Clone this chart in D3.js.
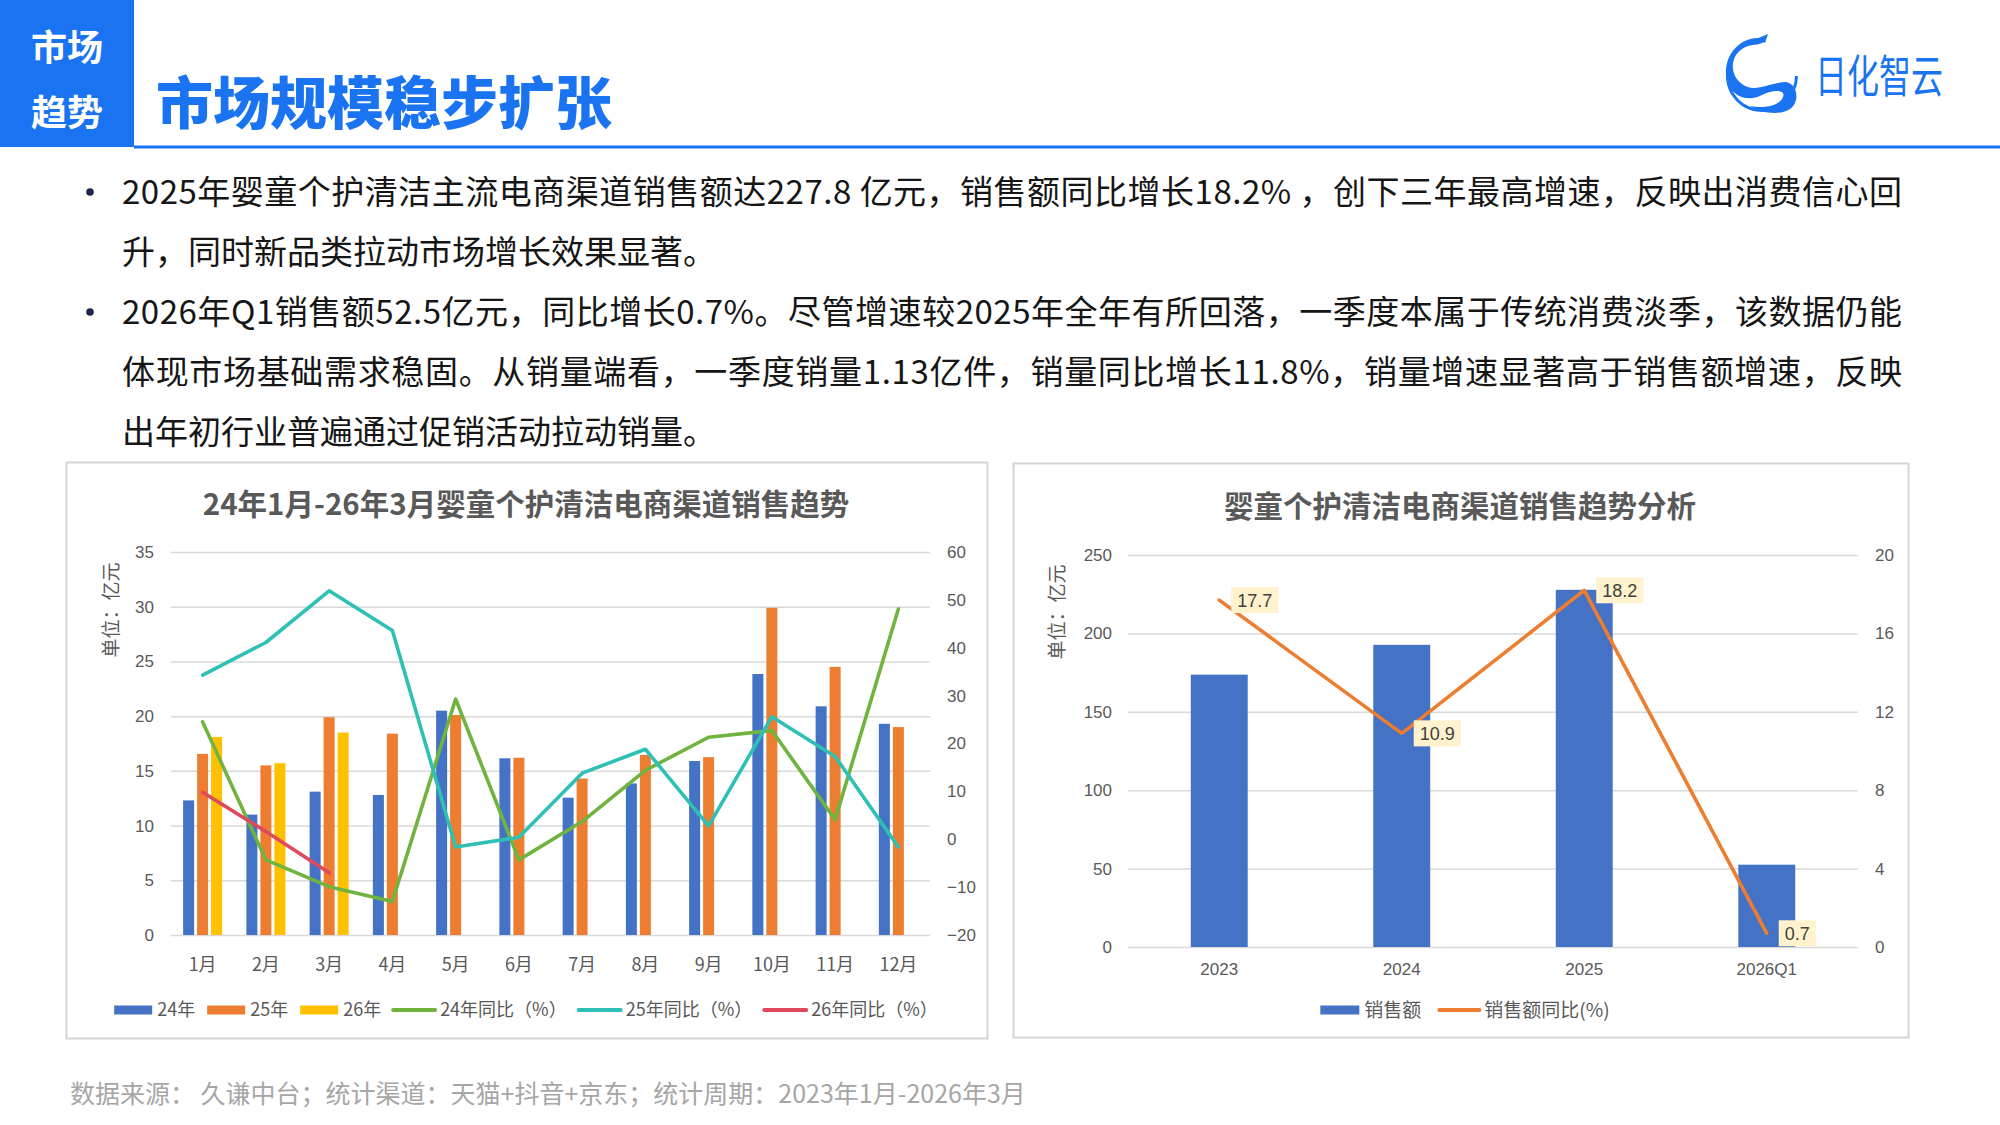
<!DOCTYPE html>
<html><head><meta charset="utf-8">
<script src="https://cdn.jsdelivr.net/npm/d3@7"></script>
<style>
html,body{margin:0;padding:0;background:#fff;}
svg{display:block;}
</style></head><body>
<svg id="c" width="2000" height="1125"></svg>
<script>
// ---------------- DATA ----------------
const months = ['1月','2月','3月','4月','5月','6月','7月','8月','9月','10月','11月','12月'];
const sales24 = [12.3, 11.0, 13.1, 12.8, 20.5, 16.15, 12.55, 13.85, 15.9, 23.85, 20.9, 19.3];
const sales25 = [16.55, 15.5, 19.9, 18.4, 20.1, 16.2, 14.3, 16.45, 16.25, 29.9, 24.5, 19.0];
const sales26 = [18.1, 15.7, 18.5];
const yoy24 = [24.5, -4.3, -9.9, -13.0, 29.3, -4.3, 3.7, 14.4, 21.3, 22.7, 4.1, 48.1];
const yoy25 = [34.3, 41.1, 51.9, 43.6, -1.6, 0.4, 13.8, 18.8, 2.8, 25.6, 17.3, -1.6];
const yoy26 = [9.8, 1.6, -7.0];
const leftTicks = [0, 5, 10, 15, 20, 25, 30, 35];
const rightTicks = [-20, -10, 0, 10, 20, 30, 40, 50, 60];

const years = ['2023', '2024', '2025', '2026Q1'];
const yearSales = [173.7, 192.7, 227.8, 52.5];
const yearYoy = [17.7, 10.9, 18.2, 0.7];
const yearLeftTicks = [0, 50, 100, 150, 200, 250];
const yearRightTicks = [0, 4, 8, 12, 16, 20];

const headerTag = ['市场', '趋势'];
const pageTitle = '市场规模稳步扩张';
const bullets = [
  ['2025年婴童个护清洁主流电商渠道销售额达227.8 亿元，销售额同比增长18.2% ，创下三年最高增速，反映出消费信心回',
   '升，同时新品类拉动市场增长效果显著。'],
  ['2026年Q1销售额52.5亿元，同比增长0.7%。尽管增速较2025年全年有所回落，一季度本属于传统消费淡季，该数据仍能',
   '体现市场基础需求稳固。从销量端看，一季度销量1.13亿件，销量同比增长11.8%，销量增速显著高于销售额增速，反映',
   '出年初行业普遍通过促销活动拉动销量。']
];
const chart1Title = '24年1月-26年3月婴童个护清洁电商渠道销售趋势';
const chart2Title = '婴童个护清洁电商渠道销售趋势分析';
const unitLabel = '单位：亿元';
const footer = '数据来源： 久谦中台；统计渠道：天猫+抖音+京东；统计周期：2023年1月-2026年3月';

// ---------------- STYLE ----------------
const CJK = '"Noto Sans CJK SC", "Noto Sans", sans-serif';
const NUM = '"Liberation Sans", Arial, "Noto Sans CJK SC", sans-serif';
const BLUE_HDR = '#1a74f2';
const C24 = '#4472C4', C25 = '#ED7D31', C26 = '#FFC000';
const L24 = '#70B43F', L25 = '#2EC0B5', L26 = '#E0485C';
const GRID = '#d9d9d9', TICK = '#595959';

const svg = d3.select('#c');
svg.append('rect').attr('width', 2000).attr('height', 1125).attr('fill', '#fff');

// ---------------- HEADER ----------------
svg.append('rect').attr('x', 0).attr('y', 0).attr('width', 134).attr('height', 147).attr('fill', BLUE_HDR);
svg.append('line').attr('x1', 134).attr('x2', 2000).attr('y1', 147).attr('y2', 147)
  .attr('stroke', BLUE_HDR).attr('stroke-width', 3);
headerTag.forEach((t, i) => {
  svg.append('text').attr('x', 67).attr('y', [48, 113][i]).attr('dy', '0.36em')
    .attr('text-anchor', 'middle').attr('fill', '#fff')
    .style('font-family', CJK).style('font-size', '36px').style('font-weight', 700).text(t);
});
svg.append('text').attr('x', 156).attr('y', 103).attr('dy', '0.36em')
  .attr('fill', BLUE_HDR).style('font-family', CJK).style('font-size', '57px').style('font-weight', 900)
  .text(pageTitle);

// logo
const logo = svg.append('g').attr('transform', 'translate(1762,76)');
logo.append('path')
  .attr('d', d3.arc()({innerRadius: 33, outerRadius: 36, startAngle: Math.PI * 0.5, endAngle: Math.PI * 1.6}))
  .attr('fill', BLUE_HDR);
logo.append('path')
  .attr('d', 'M 4,-36 C -2,-30 -8,-32 -14,-30 C -32,-24 -34,-2 -20,8 C -8,18 10,6 24,6 C 36,8 38,26 28,33 C 18,40 -2,37 -12,30 C 4,33 18,29 21,21 C 24,14 12,13 0,19 C -18,28 -35,17 -36,-2 C -37,-22 -22,-38 -4,-38 C 0,-38 2,-37 4,-36 Z')
  .attr('fill', BLUE_HDR);
logo.append('path')
  .attr('d', 'M -6,-37 L 6,-42 L 3,-33 Z').attr('fill', BLUE_HDR);
svg.append('text').attr('x', 1815).attr('y', 77).attr('dy', '0.36em')
  .attr('fill', BLUE_HDR).attr('textLength', 128).attr('lengthAdjust', 'spacingAndGlyphs')
  .style('font-family', CJK).style('font-size', '45px').style('font-weight', 400).text('日化智云');

// ---------------- BULLETS ----------------
let lineIdx = 0;
const lineY = [192, 252, 312, 372, 432];
bullets.forEach(par => {
  svg.append('circle').attr('cx', 90).attr('cy', lineY[lineIdx]).attr('r', 3.8).attr('fill', '#1c2452');
  par.forEach((ln, j) => {
    const t = svg.append('text').attr('x', 122).attr('y', lineY[lineIdx]).attr('dy', '0.36em')
      .attr('fill', '#161616').style('font-family', CJK).style('font-size', '33px').text(ln);
    if (j < par.length - 1) t.attr('textLength', 1780).attr('lengthAdjust', 'spacing');
    lineIdx++;
  });
});

// ---------------- helpers ----------------
function box(x0, y0, x1, y1) {
  svg.append('rect').attr('x', x0 + 0.5).attr('y', y0 + 0.5).attr('width', x1 - x0).attr('height', y1 - y0)
    .attr('fill', 'none').attr('stroke', '#d5d5d5').attr('stroke-width', 2);
}
function legend(items, cx, cy, fs, gap) {
  const g = svg.append('g');
  let x = 0;
  items.forEach(it => {
    const sw = it.sw || 38;
    const tx = g.append('text').attr('x', x + sw + 5).attr('y', cy).attr('dy', '0.36em')
      .attr('fill', TICK).style('font-family', CJK).style('font-size', fs + 'px').text(it.label);
    if (it.type === 'bar') {
      g.append('rect').attr('x', x).attr('y', cy - 4.5).attr('width', sw).attr('height', 9).attr('fill', it.color);
    } else {
      g.append('line').attr('x1', x).attr('x2', x + sw).attr('y1', cy).attr('y2', cy)
        .attr('stroke', it.color).attr('stroke-width', 4).attr('stroke-linecap', 'round');
    }
    x += sw + 5 + tx.node().getComputedTextLength() + gap;
  });
  const w = x - gap;
  g.attr('transform', `translate(${cx - w / 2},0)`);
}
function styleTicks(g, fs) {
  g.select('.domain').remove();
  g.selectAll('text').attr('fill', TICK).style('font-family', NUM).style('font-size', fs + 'px');
}

// ---------------- CHART 1 ----------------
box(66, 462, 987, 1038);
svg.append('text').attr('x', 526).attr('y', 504).attr('dy', '0.36em').attr('text-anchor', 'middle')
  .attr('fill', TICK).style('font-family', CJK).style('font-size', '29.5px').style('font-weight', 700).text(chart1Title);
svg.append('text').attr('transform', 'translate(111,610) rotate(-90)').attr('dy', '0.36em').attr('text-anchor', 'middle')
  .attr('fill', TICK).style('font-family', CJK).style('font-size', '19px').text(unitLabel);

const p1 = {l: 171, r: 930, t: 552, b: 935};
const x1 = d3.scaleBand().domain(months).range([p1.l, p1.r]);
const yL = d3.scaleLinear().domain([0, 35]).range([p1.b, p1.t]);
const yR = d3.scaleLinear().domain([-20, 60]).range([p1.b, p1.t]);
const sub = d3.scaleBand().domain(['24', '25', '26']).range([-19.5, 19.5]).paddingInner(0.214);

svg.append('g').attr('transform', `translate(${p1.l},0)`)
  .call(d3.axisLeft(yL).tickValues(leftTicks).tickSize(-(p1.r - p1.l)).tickFormat(''))
  .call(g => { g.select('.domain').remove(); g.selectAll('line').attr('stroke', GRID).attr('stroke-width', 1.5); });
svg.append('g').attr('transform', `translate(${p1.l},0)`)
  .call(d3.axisLeft(yL).tickValues(leftTicks).tickSize(0).tickPadding(17))
  .call(g => styleTicks(g, 17));
svg.append('g').attr('transform', `translate(${p1.r},0)`)
  .call(d3.axisRight(yR).tickValues(rightTicks).tickSize(0).tickPadding(17))
  .call(g => styleTicks(g, 17));
svg.append('g').attr('transform', `translate(0,${p1.b})`)
  .call(d3.axisBottom(x1).tickSize(0))
  .call(g => { styleTicks(g, 18); g.selectAll('text').attr('y', 30).attr('dy', '0.36em').style('font-family', CJK); });

const barSeries = [['24', sales24, C24], ['25', sales25, C25], ['26', sales26, C26]];
barSeries.forEach(([k, vals, col]) => {
  svg.append('g').selectAll('rect').data(vals).join('rect')
    .attr('x', (d, i) => x1(months[i]) + x1.bandwidth() / 2 + sub(k))
    .attr('width', sub.bandwidth())
    .attr('y', d => yL(d)).attr('height', d => yL(0) - yL(d)).attr('fill', col);
});
const lineGen = d3.line().x((d, i) => x1(months[i]) + x1.bandwidth() / 2).y(d => yR(d));
[[yoy24, L24], [yoy25, L25], [yoy26, L26]].forEach(([vals, col]) => {
  svg.append('path').datum(vals).attr('d', lineGen).attr('fill', 'none').attr('stroke', col)
    .attr('stroke-width', 3.6).attr('stroke-linejoin', 'round').attr('stroke-linecap', 'round');
});
legend([
  {type: 'bar', color: C24, label: '24年'},
  {type: 'bar', color: C25, label: '25年'},
  {type: 'bar', color: C26, label: '26年'},
  {type: 'line', color: L24, label: '24年同比（%）', sw: 42},
  {type: 'line', color: L25, label: '25年同比（%）', sw: 42},
  {type: 'line', color: L26, label: '26年同比（%）', sw: 42}
], 526, 1010, 18, 12);

// ---------------- CHART 2 ----------------
box(1013, 463, 1908, 1037);
svg.append('text').attr('x', 1460).attr('y', 506).attr('dy', '0.36em').attr('text-anchor', 'middle')
  .attr('fill', TICK).style('font-family', CJK).style('font-size', '29.5px').style('font-weight', 700).text(chart2Title);
svg.append('text').attr('transform', 'translate(1057,612) rotate(-90)').attr('dy', '0.36em').attr('text-anchor', 'middle')
  .attr('fill', TICK).style('font-family', CJK).style('font-size', '19px').text(unitLabel);

const p2 = {l: 1128, r: 1858, t: 555, b: 947};
const x2 = d3.scaleBand().domain(years).range([p2.l, p2.r]).paddingInner(0.688).paddingOuter(0.344);
const y2L = d3.scaleLinear().domain([0, 250]).range([p2.b, p2.t]);
const y2R = d3.scaleLinear().domain([0, 20]).range([p2.b, p2.t]);

svg.append('g').attr('transform', `translate(${p2.l},0)`)
  .call(d3.axisLeft(y2L).tickValues(yearLeftTicks).tickSize(-(p2.r - p2.l)).tickFormat(''))
  .call(g => { g.select('.domain').remove(); g.selectAll('line').attr('stroke', GRID).attr('stroke-width', 1.5); });
svg.append('g').attr('transform', `translate(${p2.l},0)`)
  .call(d3.axisLeft(y2L).tickValues(yearLeftTicks).tickSize(0).tickPadding(16))
  .call(g => styleTicks(g, 17));
svg.append('g').attr('transform', `translate(${p2.r},0)`)
  .call(d3.axisRight(y2R).tickValues(yearRightTicks).tickSize(0).tickPadding(17))
  .call(g => styleTicks(g, 17));
svg.append('g').attr('transform', `translate(0,${p2.b})`)
  .call(d3.axisBottom(x2).tickSize(0))
  .call(g => { styleTicks(g, 17); g.selectAll('text').attr('y', 22).attr('dy', '0.36em'); });

svg.append('g').selectAll('rect').data(yearSales).join('rect')
  .attr('x', (d, i) => x2(years[i])).attr('width', x2.bandwidth())
  .attr('y', d => y2L(d)).attr('height', d => y2L(0) - y2L(d)).attr('fill', C24);
const cx2 = (d, i) => x2(years[i]) + x2.bandwidth() / 2;
svg.append('path').datum(yearYoy)
  .attr('d', d3.line().x(cx2).y(d => y2R(d)))
  .attr('fill', 'none').attr('stroke', C25).attr('stroke-width', 3.6)
  .attr('stroke-linejoin', 'round').attr('stroke-linecap', 'round');
const lab = svg.append('g').selectAll('g').data(yearYoy).join('g')
  .attr('transform', (d, i) => `translate(${cx2(d, i) + 12},${y2R(d)})`);
lab.append('text').attr('x', 6).attr('dy', '0.36em').attr('fill', '#404040')
  .style('font-family', NUM).style('font-size', '18px').text(d => d.toFixed(1));
lab.insert('rect', 'text').attr('x', 0).attr('y', -13).attr('height', 26)
  .attr('width', function () { return this.parentNode.querySelector('text').getComputedTextLength() + 12; })
  .attr('fill', '#FFF2CC');

legend([
  {type: 'bar', color: C24, label: '销售额', sw: 39},
  {type: 'line', color: C25, label: '销售额同比(%)', sw: 40}
], 1465, 1010, 19, 18);

// ---------------- FOOTER ----------------
svg.append('text').attr('x', 70).attr('y', 1094).attr('dy', '0.36em').attr('fill', '#a6a6a6')
  .style('font-family', CJK).style('font-size', '25px').text(footer);
</script>
</body></html>
